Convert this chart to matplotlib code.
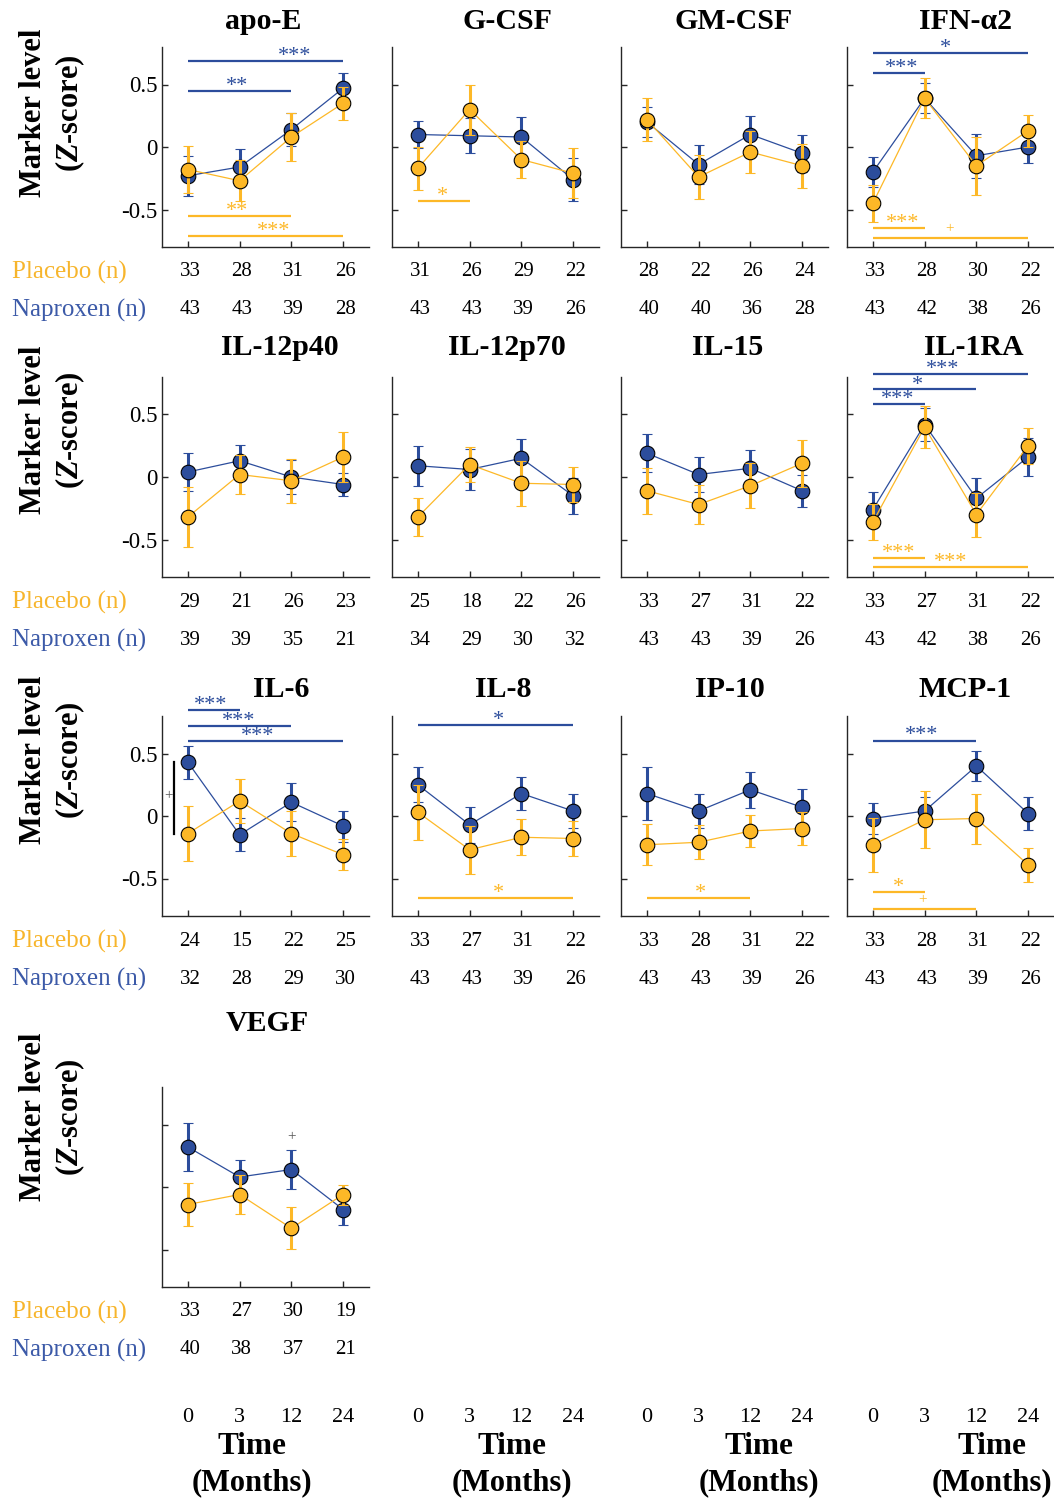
import matplotlib.pyplot as plt
import matplotlib.transforms as mtransforms

plt.rcParams['font.family'] = ['Liberation Serif', 'DejaVu Serif']
plt.rcParams['axes.unicode_minus'] = False
plt.rcParams['mathtext.fontset'] = 'custom'
plt.rcParams['mathtext.it'] = 'Liberation Serif:italic:bold'
plt.rcParams['mathtext.rm'] = 'Liberation Serif:bold'

markers = ['apo-E', 'G-CSF', 'GM-CSF', 'IFN-α2',
           'IL-12p40', 'IL-12p70', 'IL-15', 'IL-1RA',
           'IL-6', 'IL-8', 'IP-10', 'MCP-1', 'VEGF']
time_labels = ['0', '3', '12', '24']

placebo_mean = [
    [-0.18, -0.27, 0.08, 0.35],
    [-0.17, 0.30, -0.10, -0.21],
    [0.22, -0.24, -0.04, -0.15],
    [-0.45, 0.39, -0.15, 0.13],
    [-0.32, 0.02, -0.03, 0.16],
    [-0.32, 0.10, -0.05, -0.06],
    [-0.11, -0.22, -0.07, 0.11],
    [-0.36, 0.40, -0.30, 0.25],
    [-0.14, 0.12, -0.14, -0.31],
    [0.03, -0.27, -0.17, -0.18],
    [-0.23, -0.21, -0.12, -0.10],
    [-0.23, -0.03, -0.02, -0.39],
    [-0.14, -0.06, -0.33, -0.06],
]
placebo_err = [
    [0.19, 0.165, 0.19, 0.13],
    [0.17, 0.20, 0.146, 0.20],
    [0.175, 0.175, 0.17, 0.178],
    [0.147, 0.16, 0.23, 0.128],
    [0.237, 0.157, 0.175, 0.197],
    [0.155, 0.14, 0.178, 0.14],
    [0.186, 0.157, 0.18, 0.186],
    [0.146, 0.165, 0.176, 0.144],
    [0.22, 0.173, 0.178, 0.124],
    [0.22, 0.194, 0.143, 0.14],
    [0.164, 0.136, 0.125, 0.133],
    [0.218, 0.229, 0.20, 0.137],
    [0.174, 0.158, 0.168, 0.08],
]
naproxen_mean = [
    [-0.23, -0.16, 0.14, 0.47],
    [0.10, 0.09, 0.08, -0.26],
    [0.20, -0.14, 0.10, -0.05],
    [-0.20, 0.39, -0.07, 0.00],
    [0.04, 0.13, 0.00, -0.06],
    [0.09, 0.06, 0.15, -0.15],
    [0.19, 0.02, 0.07, -0.11],
    [-0.26, 0.42, -0.17, 0.16],
    [0.43, -0.15, 0.11, -0.08],
    [0.25, -0.07, 0.18, 0.04],
    [0.18, 0.04, 0.21, 0.07],
    [-0.02, 0.04, 0.40, 0.02],
    [0.32, 0.08, 0.14, -0.18],
]
naproxen_err = [
    [0.16, 0.145, 0.135, 0.125],
    [0.11, 0.14, 0.16, 0.175],
    [0.12, 0.155, 0.15, 0.147],
    [0.118, 0.12, 0.178, 0.125],
    [0.15, 0.128, 0.138, 0.095],
    [0.16, 0.165, 0.157, 0.146],
    [0.152, 0.14, 0.147, 0.128],
    [0.143, 0.134, 0.162, 0.15],
    [0.133, 0.133, 0.153, 0.124],
    [0.14, 0.143, 0.134, 0.137],
    [0.213, 0.138, 0.146, 0.143],
    [0.122, 0.11, 0.118, 0.13],
    [0.19, 0.136, 0.154, 0.12],
]
placebo_n = [
    [33, 28, 31, 26], [31, 26, 29, 22], [28, 22, 26, 24], [33, 28, 30, 22],
    [29, 21, 26, 23], [25, 18, 22, 26], [33, 27, 31, 22], [33, 27, 31, 22],
    [24, 15, 22, 25], [33, 27, 31, 22], [33, 28, 31, 22], [33, 28, 31, 22],
    [33, 27, 30, 19],
]
naproxen_n = [
    [43, 43, 39, 28], [43, 43, 39, 26], [40, 40, 36, 28], [43, 42, 38, 26],
    [39, 39, 35, 21], [34, 29, 30, 32], [43, 43, 39, 26], [43, 42, 38, 26],
    [32, 28, 29, 30], [43, 43, 39, 26], [43, 43, 39, 26], [43, 43, 39, 26],
    [40, 38, 37, 21],
]

# within-group comparisons: panel, group, from, to, level, label, label x
brackets = [
    (0, 'N', 0, 3, 0.69, '***', 2.06),
    (0, 'N', 0, 2, 0.45, '**', 0.95),
    (0, 'P', 0, 2, -0.555, '**', 0.95),
    (0, 'P', 0, 3, -0.71, '***', 1.65),
    (1, 'P', 0, 1, -0.43, '*', 0.48),
    (3, 'N', 0, 3, 0.75, '*', 1.4),
    (3, 'N', 0, 1, 0.59, '***', 0.56),
    (3, 'P', 0, 1, -0.65, '***', 0.58),
    (3, 'P', 0, 3, -0.725, '+', 1.49),
    (7, 'N', 0, 3, 0.82, '***', 1.35),
    (7, 'N', 0, 2, 0.70, '*', 0.87),
    (7, 'N', 0, 1, 0.585, '***', 0.48),
    (7, 'P', 0, 1, -0.645, '***', 0.5),
    (7, 'P', 0, 3, -0.72, '***', 1.5),
    (8, 'N', 0, 1, 0.845, '***', 0.43),
    (8, 'N', 0, 2, 0.72, '***', 0.98),
    (8, 'N', 0, 3, 0.60, '***', 1.34),
    (9, 'N', 0, 3, 0.73, '*', 1.55),
    (9, 'P', 0, 3, -0.657, '*', 1.56),
    (10, 'P', 0, 2, -0.657, '*', 1.03),
    (11, 'N', 0, 2, 0.604, '***', 0.95),
    (11, 'P', 0, 1, -0.604, '*', 0.5),
    (11, 'P', 0, 2, -0.745, '+', 0.96),
]
# between-group marks: panel, x, y
group_plus = [(8, -0.38, 0.16), (12, 2.0, 0.40)]

blue = '#2C4D9C'
orange = '#FDB827'
blue_txt = '#3C5AA8'
orange_txt = '#F7B52C'

W, H = 1054, 1500
col_left = [162, 392, 621, 847]
row_top = [47, 377, 716, 1087]
ax_w, ax_h = 207, 200
title_pad = [13, 16, 14, 40]
title_cx = [263, 507, 734, 965, 280, 507, 728, 974, 281, 503, 730, 965, 267]
ylabel_y = [113, 430, 760, 1117]
time_x = [252, 512, 759, 992]

fig = plt.figure(figsize=(W / 100, H / 100), dpi=100)


def make_axes(r, c):
    return fig.add_axes([col_left[c] / W, 1 - (row_top[r] + ax_h) / H,
                         ax_w / W, ax_h / H])


xs = [0, 1, 2, 3]
axes = []
for k, name in enumerate(markers):
    r, c = divmod(k, 4)
    ax = make_axes(r, c)
    axes.append(ax)
    ax.errorbar(xs, naproxen_mean[k], yerr=naproxen_err[k], color=blue,
                lw=0.9, elinewidth=2.2, capsize=3.6, capthick=2.2,
                marker='o', ms=10.5, mfc=blue, mec='black', mew=0.8, zorder=3)
    ax.errorbar(xs, placebo_mean[k], yerr=placebo_err[k], color=orange,
                lw=0.9, elinewidth=2.2, capsize=3.6, capthick=2.2,
                marker='o', ms=10.5, mfc=orange, mec='black', mew=0.8, zorder=4)
    ax.set_xlim(-0.5, 3.5)
    ax.set_ylim(-0.8, 0.8)
    ax.set_xticks(xs)
    ax.set_xticklabels([])
    ax.set_yticks([-0.5, 0, 0.5])
    if c == 0 and r < 3:
        ax.set_yticklabels(['-0.5', '0', '0.5'], fontsize=16.5)
    else:
        ax.set_yticklabels([])
    ax.tick_params(direction='in', length=4, width=1, pad=3, color='#262626')
    for s in ['top', 'right']:
        ax.spines[s].set_visible(False)
    for s in ['left', 'bottom']:
        ax.spines[s].set_color('#262626')
        ax.spines[s].set_linewidth(1)
    ax.set_title(name, fontsize=21.5, fontweight='bold', pad=title_pad[r],
                 x=(title_cx[k] - col_left[c]) / ax_w)

    tr = mtransforms.blended_transform_factory(ax.transData, ax.transAxes)
    for i in xs:
        ax.text(i + 0.04, -0.125, str(placebo_n[k][i]), transform=tr,
                ha='center', va='center', fontsize=15)
        ax.text(i + 0.04, -0.315, str(naproxen_n[k][i]), transform=tr,
                ha='center', va='center', fontsize=15)

for k, grp, i0, i1, yv, lab, lx in brackets:
    ax = axes[k]
    col = blue if grp == 'N' else orange
    ax.plot([i0, i1], [yv, yv], color=col, lw=1.6, clip_on=False,
            solid_capstyle='butt', zorder=2)
    if lab == '+':
        ax.annotate(lab, (lx, yv), xytext=(0, 2), textcoords='offset points',
                    ha='center', va='bottom', fontsize=11, color=col,
                    annotation_clip=False)
    else:
        ax.text(lx, yv, lab, ha='center', va='baseline', fontsize=16,
                color=col, clip_on=False)

for k, xv, yv in group_plus:
    axes[k].text(xv, yv, '+', ha='center', va='center', fontsize=11,
                 color='#555555', clip_on=False)

# baseline between-group line in IL-6
axes[8].plot([-0.27, -0.27], [naproxen_mean[8][0], placebo_mean[8][0]],
             color='black', lw=1.6, clip_on=False)

# row labels
for r in range(4):
    bottom = row_top[r] + ax_h
    fig.text(12 / W, 1 - (bottom + 25) / H, 'Placebo (n)', color=orange_txt,
             fontsize=18, ha='left', va='center')
    fig.text(12 / W, 1 - (bottom + 63) / H, 'Naproxen (n)', color=blue_txt,
             fontsize=18, ha='left', va='center')
    fig.text(53 / W, 1 - ylabel_y[r] / H, 'Marker level\n($Z$-score)',
             rotation=90, ha='center', va='center', fontsize=22,
             fontweight='bold', linespacing=1.2)

# bottom time axis labels
for c in range(4):
    if c == 0:
        ax = axes[12]
    else:
        ax = make_axes(3, c)
        ax.axis('off')
        ax.set_xlim(-0.5, 3.5)
    tr = mtransforms.blended_transform_factory(ax.transData, ax.transAxes)
    for i in xs:
        ax.text(i, -0.655, time_labels[i], transform=tr, ha='center',
                va='center', fontsize=16)
    fig.text(time_x[c] / W, 1 - 1447 / H, 'Time', ha='center', va='center',
             fontsize=22.5, fontweight='bold')
    fig.text(time_x[c] / W, 1 - 1483 / H, '(Months)', ha='center',
             va='center', fontsize=22, fontweight='bold')

fig.savefig('out.png', dpi=100)
